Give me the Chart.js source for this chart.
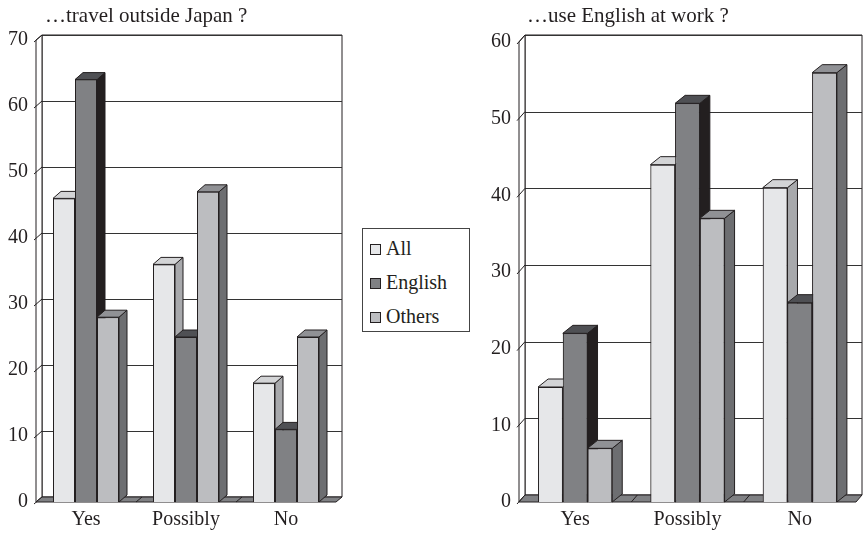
<!DOCTYPE html>
<html>
<head>
<meta charset="utf-8">
<script src="https://cdn.jsdelivr.net/npm/chart.js@4.4.0/dist/chart.umd.min.js"></script>
<style>
  html, body { margin: 0; padding: 0; background: #fff; }
  body { width: 865px; height: 533px; position: relative; overflow: hidden;
         font-family: 'Liberation Serif', serif; color: #231f20; }
  .box { position: absolute; top: 0; }
  .ttl { position: absolute; top: 3px; font-size: 21px; line-height: 24px; white-space: nowrap; }
  #legend { position: absolute; left: 362px; top: 228px; width: 106px; height: 102px;
            border: 1px solid #444; }
  .item { position: absolute; left: 7px; font-size: 20px; line-height: 22px; white-space: nowrap; }
  .sw { display: inline-block; width: 9px; height: 9px; border: 1px solid #231f20;
        margin-right: 5px; vertical-align: 0px; }
</style>
</head>
<body>
<div class="box" style="left:0;width:350px;height:533px"><canvas id="c1" width="350" height="533"></canvas></div>
<div class="box" style="left:480px;width:385px;height:533px"><canvas id="c2" width="385" height="533"></canvas></div>
<div class="ttl" style="left:45px">…travel outside Japan ?</div>
<div class="ttl" style="left:527px">…use English at work ?</div>
<div id="legend"></div>
<script>
// categories and series
const categories = ['Yes', 'Possibly', 'No'];
const seriesNames = ['All', 'English', 'Others'];

// ...travel outside Japan ?
const travelAll = [46, 36, 18];
const travelEnglish = [64, 25, 11];
const travelOthers = [28, 47, 25];

// ...use English at work ?
const workAll = [15, 44, 41];
const workEnglish = [22, 52, 26];
const workOthers = [7, 37, 56];

const travelMax = 70;
const workMax = 60;
const tickStep = 10;

// front / top / side shades per series
const frontColors = ['#e6e7e9', '#808184', '#bcbdc0'];
const topColors = ['#d3d4d6', '#4f5054', '#909195'];
const sideColors = ['#a8a9ac', '#231f20', '#6d6e71'];
const lineColor = '#231f20';

// legend
const legend = document.getElementById('legend');
const legendTops = [8, 42, 76];
seriesNames.forEach((n, i) => {
  const d = document.createElement('div');
  d.className = 'item';
  d.style.top = legendTops[i] + 'px';
  d.innerHTML = '<span class="sw" style="background:' + frontColors[i] + '"></span>' + n;
  legend.appendChild(d);
});

function poly(ctx, pts, fill) {
  ctx.beginPath();
  ctx.moveTo(pts[0][0], pts[0][1]);
  for (let i = 1; i < pts.length; i++) ctx.lineTo(pts[i][0], pts[i][1]);
  ctx.closePath();
  if (fill) { ctx.fillStyle = fill; ctx.fill(); }
  ctx.strokeStyle = lineColor;
  ctx.lineWidth = 1;
  ctx.stroke();
}

// walls, floor and gridlines behind the bars, then the 3D faces of each bar
const bars3d = {
  id: 'bars3d',
  beforeDatasetsDraw(chart, args, o) {
    const { ctx, chartArea: a } = chart;
    const ys = chart.scales.y, xs = chart.scales.x;
    const L = a.left, R = a.right, T = a.top, B = a.bottom;
    ctx.save();
    // back wall
    poly(ctx, [[L + o.wx, T - o.wy], [R + o.wx, T - o.wy], [R + o.wx, B - o.wy], [L + o.wx, B - o.wy]], '#fff');
    // gridlines on back wall
    ctx.strokeStyle = '#333';
    ctx.lineWidth = 1;
    ys.ticks.forEach(t => {
      if (t.value === 0) return;
      const y = Math.round(ys.getPixelForValue(t.value) - o.wy) + 0.5;
      ctx.beginPath();
      ctx.moveTo(L + o.wx, y);
      ctx.lineTo(R + o.wx, y);
      ctx.stroke();
    });
    // left wall
    poly(ctx, [[L, B], [L, T], [L + o.wx, T - o.wy], [L + o.wx, B - o.wy]], '#fff');
    // diagonal tick marks
    ys.ticks.forEach(t => {
      const y = ys.getPixelForValue(t.value);
      ctx.beginPath();
      ctx.moveTo(L - 2, y + 2);
      ctx.lineTo(L + o.wx, y - o.wy);
      ctx.stroke();
    });
    // floor
    poly(ctx, [[L, B], [R, B], [R + o.wx, B - o.wy], [L + o.wx, B - o.wy]], '#808184');
    const n = xs.ticks.length;
    for (let i = 1; i < n; i++) {
      const x = (xs.getPixelForValue(i - 1) + xs.getPixelForValue(i)) / 2;
      ctx.beginPath();
      ctx.moveTo(x, B);
      ctx.lineTo(x + o.wx, B - o.wy);
      ctx.stroke();
    }
    ctx.restore();
  },
  afterDatasetsDraw(chart, args, o) {
    const ctx = chart.ctx;
    ctx.save();
    chart.data.datasets.forEach((ds, di) => {
      const meta = chart.getDatasetMeta(di);
      meta.data.forEach(el => {
        const l = el.x - el.width / 2, r = el.x + el.width / 2;
        const t = el.y, b = el.base;
        poly(ctx, [[r, b], [r, t], [r + o.bx, t - o.by], [r + o.bx, b - o.by]], sideColors[di]);
        poly(ctx, [[l, t], [r, t], [r + o.bx, t - o.by], [l + o.bx, t - o.by]], topColors[di]);
        el.draw(ctx, chart.chartArea);
      });
    });
    ctx.restore();
  }
};

function makeChart(id, values, maxV, yWidth, rightPad, topPad, depth) {
  return new Chart(document.getElementById(id), {
    type: 'bar',
    data: {
      labels: categories,
      datasets: values.map((v, i) => ({
        label: seriesNames[i],
        data: v,
        backgroundColor: frontColors[i],
        borderColor: lineColor,
        borderWidth: 1,
        categoryPercentage: 0.66,
        barPercentage: 1.0
      }))
    },
    options: {
      responsive: false,
      animation: false,
      layout: { padding: { left: 0, right: rightPad, top: topPad, bottom: 0 } },
      plugins: {
        legend: { display: false },
        tooltip: { enabled: false },
        bars3d: depth
      },
      scales: {
        x: {
          grid: { display: false, drawTicks: false },
          border: { display: false },
          ticks: { color: '#231f20', padding: 6, font: { family: 'Liberation Serif', size: 20 } },
          afterFit: s => { s.height = 31; }
        },
        y: {
          min: 0, max: maxV,
          grid: { display: false, drawTicks: false },
          border: { display: false },
          ticks: { stepSize: tickStep, color: '#231f20', padding: 8,
                   font: { family: 'Liberation Serif', size: 20 } },
          afterFit: s => { s.width = yWidth; }
        }
      }
    },
    plugins: [bars3d]
  });
}

makeChart('c1', [travelAll, travelEnglish, travelOthers], travelMax, 36, 14, 40,
  { wx: 6, wy: 5, bx: 8, by: 7 });
makeChart('c2', [workAll, workEnglish, workOthers], workMax, 39, 9, 42,
  { wx: 6, wy: 7, bx: 10, by: 8 });
</script>
</body>
</html>
